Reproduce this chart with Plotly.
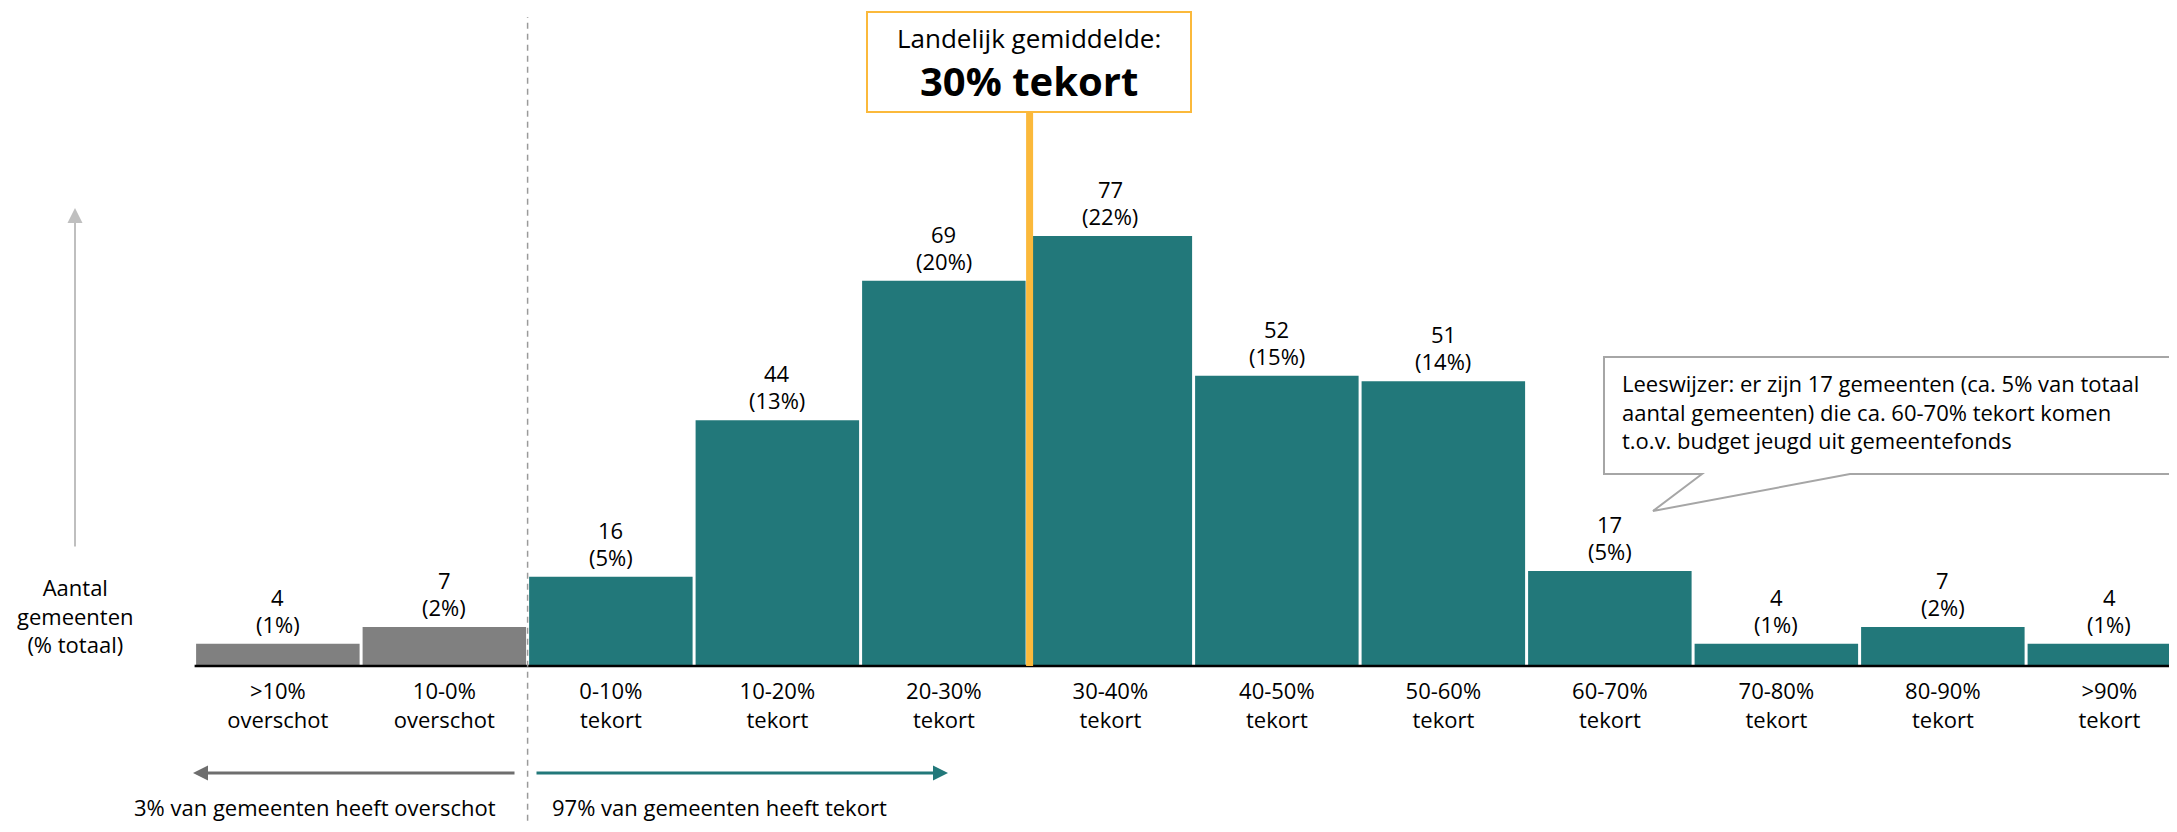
import plotly.graph_objects as go

# ---------------- data ----------------
categories = [">10%<br>overschot", "10-0%<br>overschot", "0-10%<br>tekort", "10-20%<br>tekort",
              "20-30%<br>tekort", "30-40%<br>tekort", "40-50%<br>tekort", "50-60%<br>tekort",
              "60-70%<br>tekort", "70-80%<br>tekort", "80-90%<br>tekort", ">90%<br>tekort"]
counts = [4, 7, 16, 44, 69, 77, 52, 51, 17, 4, 7, 4]
percents = [1, 2, 5, 13, 20, 22, 15, 14, 5, 1, 2, 1]
groups = ["overschot", "overschot"] + ["tekort"] * 10
national_average_label = "Landelijk gemiddelde:"
national_average_value = "30% tekort"
national_average_pos = 4.515   # category-index position of 30% tekort

# ---------------- styling ----------------
W, H = 2177, 832          # browser window
OFF = 8                   # default body margin of the page
FW, FH = W - OFF, H - 2 * OFF
FONT = "Open Sans"
TEAL = "#22787A"
GREY = "#808080"
ORANGE = "#FBB93B"
group_colors = {"overschot": GREY, "tekort": TEAL}

BASE_PX = 666.0 - OFF     # baseline row inside the figure
PPU = 5.584               # pixels per gemeente
BAR0_LEFT = 194.6 - OFF   # first bar's left edge inside the figure
PITCH = 166.5             # pixels per category

x_range = [-0.5 - BAR0_LEFT / PITCH, -0.5 + (FW - BAR0_LEFT) / PITCH]
y_range = [-(FH - BASE_PX) / PPU, BASE_PX / PPU]


def xp(px):   # page pixel -> paper
    return (px - OFF) / FW


def yp(py):   # page pixel -> paper
    return 1 - (py - OFF) / FH


fig = go.Figure()
fig.add_trace(go.Bar(
    x=categories,
    y=counts,
    marker=dict(color=[group_colors[g] for g in groups], line=dict(width=0)),
    hoverinfo="skip",
))

shapes = []
shapes.append(dict(type="line", xref="x", yref="y", x0=-0.5, x1=x_range[1], y0=0, y1=0,
                   line=dict(color="black", width=2.5), layer="above"))
shapes.append(dict(type="line", xref="x", yref="paper", x0=1.5, x1=1.5, y0=-0.05, y1=yp(17),
                   line=dict(color="#9A9A9A", width=1.5, dash="6px,5px"), layer="above"))
shapes.append(dict(type="line", xref="x", yref="paper", x0=national_average_pos, x1=national_average_pos,
                   y0=yp(666), y1=yp(112), line=dict(color=ORANGE, width=7), layer="above"))
shapes.append(dict(type="rect", xref="paper", yref="paper", x0=xp(867), x1=xp(1191), y0=yp(112), y1=yp(12),
                   line=dict(color=ORANGE, width=2), fillcolor="white", layer="above"))
pts = [(1702, 474), (1653, 511), (1850, 474), (2195, 474), (2195, 357), (1604, 357), (1604, 474)]
path = "M " + " L ".join(f"{xp(a):.5f},{yp(b):.5f}" for a, b in pts) + " Z"
shapes.append(dict(type="path", xref="paper", yref="paper", path=path,
                   line=dict(color="#A6A6A6", width=2), fillcolor="white", layer="above"))

annotations = []
# value labels above the bars
for cat, c, p in zip(categories, counts, percents):
    annotations.append(dict(xref="x", yref="y", x=cat, y=c, yshift=47, text=f"{c}", showarrow=False,
                            font=dict(family=FONT, size=22, color="black"), xanchor="center", yanchor="middle"))
    annotations.append(dict(xref="x", yref="y", x=cat, y=c, yshift=20, text=f"({p}%)", showarrow=False,
                            font=dict(family=FONT, size=22, color="black"), xanchor="center", yanchor="middle"))

annotations.append(dict(xref="paper", yref="paper", x=xp(1029), y=yp(38), text=national_average_label,
                        showarrow=False, font=dict(family=FONT, size=26, color="black"),
                        xanchor="center", yanchor="middle"))
annotations.append(dict(xref="paper", yref="paper", x=xp(1029), y=yp(80), text=f"<b>{national_average_value}</b>",
                        showarrow=False, font=dict(family=FONT, size=40, color="black"),
                        xanchor="center", yanchor="middle"))
annotations.append(dict(xref="paper", yref="paper", x=xp(1620), y=yp(411),
                        text="Leeswijzer: er zijn 17 gemeenten (ca. 5% van totaal<br>"
                             "aantal gemeenten) die ca. 60-70% tekort komen<br>"
                             "t.o.v. budget jeugd uit gemeentefonds",
                        showarrow=False, align="left", font=dict(family=FONT, size=22, color="black"),
                        xanchor="left", yanchor="middle"))
annotations.append(dict(xref="paper", yref="paper", x=xp(75), y=yp(615), text="Aantal<br>gemeenten<br>(% totaal)",
                        showarrow=False, align="center", font=dict(family=FONT, size=22, color="black"),
                        xanchor="center", yanchor="middle"))
annotations.append(dict(xref="paper", yref="paper", x=xp(75), y=yp(208), ax=0, ay=548 - 208, text="",
                        showarrow=True, arrowhead=2, arrowsize=1.5, arrowwidth=2, arrowcolor="#BFBFBF"))
annotations.append(dict(xref="paper", yref="paper", x=xp(193), y=yp(773), ax=516 - 193, ay=0, text="",
                        showarrow=True, arrowhead=2, arrowsize=1, arrowwidth=3, arrowcolor="#6E6E6E"))
annotations.append(dict(xref="paper", yref="paper", x=xp(948), y=yp(773), ax=535 - 948, ay=0, text="",
                        showarrow=True, arrowhead=2, arrowsize=1, arrowwidth=3, arrowcolor=TEAL))
annotations.append(dict(xref="paper", yref="paper", x=xp(498), y=yp(807), text="3% van gemeenten heeft overschot",
                        showarrow=False, font=dict(family=FONT, size=22, color="black"),
                        xanchor="right", yanchor="middle"))
annotations.append(dict(xref="paper", yref="paper", x=xp(550), y=yp(807), text="97% van gemeenten heeft tekort",
                        showarrow=False, font=dict(family=FONT, size=22, color="black"),
                        xanchor="left", yanchor="middle"))

fig.update_layout(
    width=FW, height=FH,
    margin=dict(l=0, r=0, t=0, b=0, pad=0),
    paper_bgcolor="white", plot_bgcolor="white",
    bargap=0.018,
    showlegend=False,
    font=dict(family=FONT, size=22, color="black"),
    xaxis=dict(type="category", range=x_range, anchor="free", position=(FH - BASE_PX) / FH,
               showline=False, showgrid=False, zeroline=False, ticks="", ticklabelstandoff=10,
               tickfont=dict(family=FONT, size=22, color="black"), automargin=False, fixedrange=True),
    yaxis=dict(visible=False, range=y_range, showgrid=False, zeroline=False, automargin=False, fixedrange=True),
    shapes=shapes,
    annotations=annotations,
)

fig.write_html("out.html")
